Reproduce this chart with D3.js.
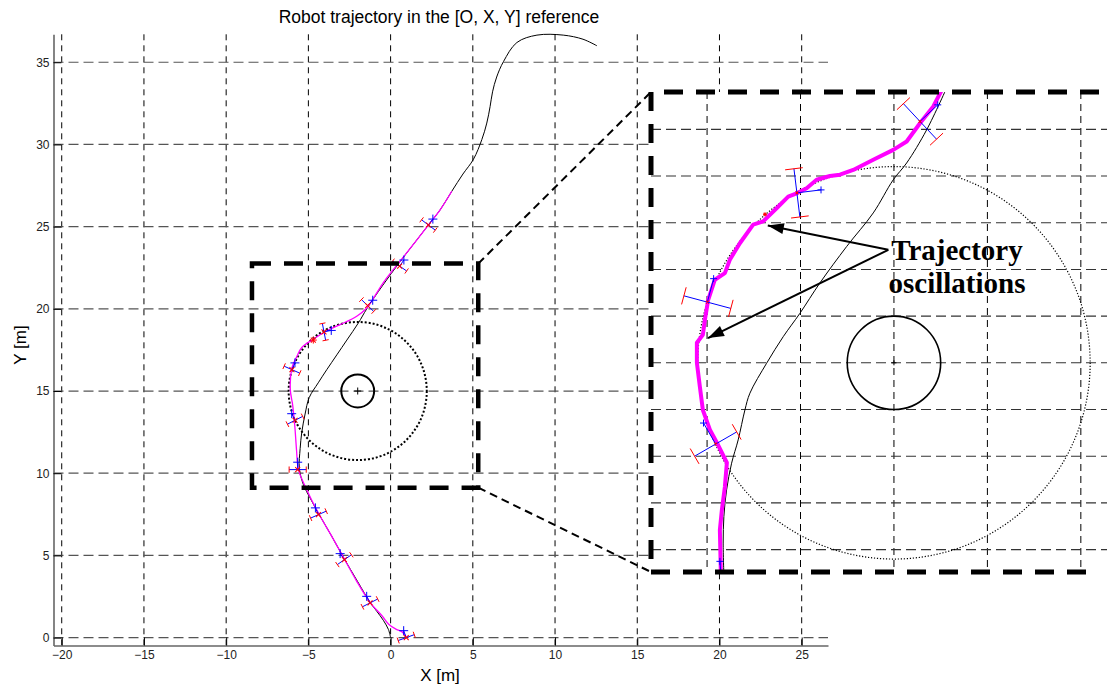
<!DOCTYPE html>
<html>
<head>
<meta charset="utf-8">
<script src="https://cdn.jsdelivr.net/npm/d3@7"></script>
<style>
	body { margin: 0; background: #fff; }
	text { font-family: "Liberation Sans", Arial, sans-serif; }
</style>
</head>
<body>
<div id="chart"></div>
<script>

// tick values of the main axes
let xTicks = [-20, -15, -10, -5, 0, 5, 10, 15, 20, 25];
let yTicks = [0, 5, 10, 15, 20, 25, 30, 35];

// obstacle (center, radius) and its safety circle radius
let obstacle = [-2, 15];
let obstacleRadius = 1;
let safetyRadius = 4.2;

// reference path (black) in the main plot
let refPath = [[0, 0], [-0.13, 0.49], [-0.44, 1.05], [-0.84, 1.6], [-1.25, 2.15], [-2.0, 3.4], [-2.85, 4.85],
	[-3.6, 6.2], [-4.35, 7.5], [-4.9, 8.5], [-5.3, 9.3], [-5.55, 10.3], [-5.5, 11.5], [-5.4, 12.5], [-5.2, 13.6],
	[-4.95, 14.6], [-4.4, 15.5], [-3.88, 16.3], [-3.27, 17.2], [-2.66, 18.1], [-1.96, 19.14], [-1.45, 20.0],
	[-0.5, 21.4], [0.6, 22.9], [1.6, 24.2], [2.3, 25.1], [3.0, 26.0], [3.72, 27.15], [4.4, 28.2], [5.04, 29.1],
	[5.55, 30.3], [5.85, 31.3], [6.05, 32.3], [6.2, 33.2], [6.45, 34.1], [6.87, 35.05], [7.68, 36.2],
	[8.9, 36.65], [10.5, 36.65], [11.7, 36.4], [12.55, 36.0]];

// robot trajectory (magenta) in the main plot
let robotPath = [[0.95, 0.05], [0.7, 0.35], [0.35, 0.5], [-0.1, 0.8], [-0.5, 1.3], [-1.25, 2.15], [-2.1, 3.5],
	[-2.85, 4.85], [-3.6, 6.2], [-4.35, 7.5], [-5.1, 9.0], [-5.6, 10.2], [-5.72, 11.4], [-5.82, 12.8],
	[-5.95, 14.1], [-6.1, 15.1], [-6.0, 16.4], [-5.7, 17.1], [-5.4, 17.65], [-4.7, 18.15], [-3.9, 18.65],
	[-3.07, 19.04], [-2.06, 19.55], [-1.45, 20.05], [-0.44, 21.6], [0.58, 22.9], [1.6, 24.2], [2.3, 25.1],
	[3.0, 26.0], [3.72, 27.15]];

// estimated poses on the main plot: x, y, heading (deg)
let mainSites = [[0.95, 0.0, 110], [-1.25, 2.11, 117], [-2.81, 4.74, 125], [-4.39, 7.48, 114],
	[-5.65, 10.22, 90], [-5.81, 13.22, 117], [-6.0, 16.3, 66], [-4.05, 18.6, 11], [-1.4, 20.2, 46],
	[0.55, 22.6, 55], [2.3, 25.1, 53]];
let mainStars = [[-4.7, 18.1]];

// zoomed region marked on the main plot
let zoomBox = [[-8.43, 9.12], [5.33, 22.75]];

// inset (zoom) data
let insetX = [-7.2, 2.56];
let insetY = [10.52, 20.8];
let insetGridX = [-6, -4, -2, 0, 2];
let insetGridY = [11, 12, 13, 14, 15, 16, 17, 18, 19, 20];

let insetRefPath = [[-0.844, 20.95], [-1.3, 19.99], [-1.728, 19.28], [-2.015, 18.92], [-2.443, 18.21],
	[-3.013, 17.49], [-3.585, 16.71], [-4.013, 16.06], [-4.37, 15.56], [-4.726, 14.99], [-5.083, 14.35],
	[-5.19, 13.99], [-5.334, 13.35], [-5.475, 12.85], [-5.582, 12.28], [-5.64, 11.71], [-5.655, 11.14],
	[-5.64, 10.46]];

let insetRobotPath = [[-0.951, 20.89], [-1.158, 20.49], [-1.443, 20.13], [-1.728, 19.74], [-2.015, 19.56],
	[-2.443, 19.35], [-2.872, 19.13], [-3.156, 19.03], [-3.37, 19.0], [-3.655, 18.92], [-3.869, 18.74],
	[-4.083, 18.63], [-4.263, 18.56], [-4.512, 18.31], [-4.799, 18.03], [-5.013, 17.96], [-5.298, 17.56],
	[-5.512, 17.21], [-5.619, 16.92], [-5.833, 16.78], [-5.976, 16.35], [-6.047, 15.92], [-6.09, 15.6],
	[-6.218, 15.43], [-6.218, 15.0], [-6.154, 14.49], [-6.09, 13.99], [-5.94, 13.57], [-5.79, 13.29],
	[-5.576, 12.86], [-5.619, 12.34], [-5.683, 11.85], [-5.726, 11.42], [-5.704, 10.46]];

let insetSites = [[-1.443, 20.17, 43], [-4.077, 18.64, 7], [-5.994, 16.3, 75], [-5.816, 13.26, 120],
	[-5.68, 10.23, 95]];
let insetStars = [[-4.76, 18.18]];

// annotation arrows (inset coordinates)
let noteTail = [-2.12, 17.42];
let noteTips = [[-4.70, 17.94], [-5.98, 15.53]];
let noteLines = ["Trajectory", "oscillations"];


let width = 1107, height = 687;

let svg = d3.select("#chart")
	.append("svg")
	.attr("width", width)
	.attr("height", height);

svg.append("rect").attr("width", width).attr("height", height).attr("fill", "#fff");

// main scales (equal aspect)
let x = d3.scaleLinear().domain([-20.5, 26.6]).range([53.5, 828]);
let y = d3.scaleLinear().domain([-0.48, 36.7]).range([645.5, 34.3]);

// grid
svg.append("g")
	.selectAll("line")
	.data(xTicks)
	.enter().append("line")
	.attr("x1", d => x(d)).attr("x2", d => x(d))
	.attr("y1", y.range()[1]).attr("y2", y.range()[0])
	.attr("stroke", "#000")
	.attr("stroke-dasharray", "6,5");

svg.append("g")
	.selectAll("line")
	.data(yTicks)
	.enter().append("line")
	.attr("x1", x.range()[0]).attr("x2", x.range()[1])
	.attr("y1", d => y(d)).attr("y2", d => y(d))
	.attr("stroke", "#555")
	.attr("stroke-width", 1.2)
	.attr("stroke-dasharray", "10,5");

// axes with inward ticks
let xAxis = svg.append("g")
	.attr("transform", "translate(0," + y.range()[0] + ")")
	.call(d3.axisBottom(x).tickValues(xTicks).tickSize(-8).tickSizeOuter(0).tickPadding(5));

let yAxis = svg.append("g")
	.attr("transform", "translate(" + x.range()[0] + ",0)")
	.call(d3.axisLeft(y).tickValues(yTicks).tickSize(-8).tickSizeOuter(0).tickPadding(4));

[xAxis, yAxis].forEach(function (a) {
	a.select(".domain").attr("stroke", "#666").attr("stroke-width", 1.6);
	a.selectAll(".tick line").attr("stroke", "#000");
	a.selectAll(".tick text")
		.attr("fill", "#222")
		.style("font-size", "12px")
		.style("font-family", "Liberation Sans, Arial, sans-serif");
});

// labels
svg.append("text")
	.attr("x", 439)
	.attr("y", 23)
	.attr("text-anchor", "middle")
	.style("font-size", "17.5px")
	.text("Robot trajectory in the [O, X, Y] reference");

svg.append("text")
	.attr("x", 440)
	.attr("y", 681)
	.attr("text-anchor", "middle")
	.style("font-size", "17px")
	.text("X [m]");

svg.append("text")
	.attr("transform", "rotate(-90)")
	.attr("x", -345)
	.attr("y", 26)
	.attr("text-anchor", "middle")
	.style("font-size", "17px")
	.text("Y [m]");


// draws obstacle, paths and pose markers for one panel
function panel(g, sx, sy, opt) {
	let k = sx(1) - sx(0);

	g.append("circle")
		.attr("cx", sx(obstacle[0])).attr("cy", sy(obstacle[1]))
		.attr("r", safetyRadius * k)
		.attr("fill", "none").attr("stroke", "#000")
		.attr("stroke-width", opt.dotWidth)
		.attr("stroke-dasharray", opt.dotDash);

	g.append("circle")
		.attr("cx", sx(obstacle[0])).attr("cy", sy(obstacle[1]))
		.attr("r", obstacleRadius * k)
		.attr("fill", "none").attr("stroke", "#000")
		.attr("stroke-width", opt.obstWidth);

	cross(g, sx(obstacle[0]), sy(obstacle[1]), opt.plus - 1, "#000", 0);

	let line = d3.line().x(d => sx(d[0])).y(d => sy(d[1]));

	g.append("path")
		.attr("d", line.curve(d3.curveCatmullRom)(opt.ref))
		.attr("fill", "none").attr("stroke", "#000").attr("stroke-width", 1);

	g.append("path")
		.attr("d", line.curve(opt.smooth ? d3.curveCatmullRom : d3.curveLinear)(opt.robot))
		.attr("fill", "none").attr("stroke", "#ff00ff")
		.attr("stroke-width", opt.robotWidth)
		.attr("stroke-linejoin", "round");

	// pose markers: blue bar across the path with red caps, heading line to a blue +
	opt.sites.forEach(function (s) {
		let a = s[2] * Math.PI / 180;
		let h = [Math.cos(a), Math.sin(a)];
		let p = [Math.sin(a), -Math.cos(a)];
		let e1 = [s[0] + 0.52 * p[0], s[1] + 0.52 * p[1]];
		let e2 = [s[0] - 0.52 * p[0], s[1] - 0.52 * p[1]];
		let tip = [s[0] + opt.reach * h[0], s[1] + opt.reach * h[1]];

		seg(g, e1, e2, "#0000ff", 1);
		[e1, e2].forEach(function (e) {
			seg(g, [e[0] - 0.19 * h[0], e[1] - 0.19 * h[1]], [e[0] + 0.19 * h[0], e[1] + 0.19 * h[1]], "#ff0000", 1);
		});
		seg(g, [s[0], s[1]], tip, "#0000ff", 1);
		cross(g, sx(tip[0]), sy(tip[1]), opt.plus, "#0000ff", 0);
		cross(g, sx(s[0]), sy(s[1]), opt.xmark, "#ff0000", 45);
	});

	opt.stars.forEach(function (s) {
		cross(g, sx(s[0]), sy(s[1]), opt.xmark, "#ff0000", 0);
		cross(g, sx(s[0]), sy(s[1]), opt.xmark, "#ff0000", 45);
	});

	function seg(g, p1, p2, color, w) {
		g.append("line")
			.attr("x1", sx(p1[0])).attr("y1", sy(p1[1]))
			.attr("x2", sx(p2[0])).attr("y2", sy(p2[1]))
			.attr("stroke", color).attr("stroke-width", w);
	}
}

// plus / x shaped marker
function cross(g, cx, cy, r, color, rot) {
	if (r <= 0) return;
	g.append("path")
		.attr("d", "M" + (-r) + ",0H" + r + "M0," + (-r) + "V" + r)
		.attr("transform", "translate(" + cx + "," + cy + ") rotate(" + rot + ")")
		.attr("stroke", color).attr("stroke-width", 1).attr("fill", "none");
}

panel(svg.append("g"), x, y, {
	ref: refPath, robot: robotPath, sites: mainSites, stars: mainStars,
	smooth: true, robotWidth: 1.3, dotWidth: 2, dotDash: "2,2", obstWidth: 2,
	plus: 4.5, xmark: 3.5, reach: 0.45
});

// zoomed region box and connector lines
let bx1 = x(zoomBox[0][0]), bx2 = x(zoomBox[1][0]);
let by1 = y(zoomBox[1][1]), by2 = y(zoomBox[0][1]);

// inset placement
let ix = d3.scaleLinear().domain(insetX).range([651, 1107]);
let iy = d3.scaleLinear().domain(insetY).range([572, 92]);

svg.append("rect")
	.attr("x", bx1).attr("y", by1)
	.attr("width", bx2 - bx1).attr("height", by2 - by1)
	.attr("fill", "none").attr("stroke", "#000")
	.attr("stroke-width", 4.5)
	.attr("stroke-dasharray", "19,13");

svg.append("g")
	.selectAll("line")
	.data([[by1, 92], [by2, 572]])
	.enter().append("line")
	.attr("x1", bx2).attr("y1", d => d[0])
	.attr("x2", 651).attr("y2", d => d[1])
	.attr("stroke", "#000").attr("stroke-width", 2)
	.attr("stroke-dasharray", "8,5");

// inset panel
svg.append("clipPath").attr("id", "insetClip")
	.append("rect")
	.attr("x", 651).attr("y", 92).attr("width", 456).attr("height", 480);

let inset = svg.append("g").attr("clip-path", "url(#insetClip)");

inset.append("rect")
	.attr("x", 651).attr("y", 92).attr("width", 456).attr("height", 480)
	.attr("fill", "#fff");

inset.append("g")
	.selectAll("line")
	.data(insetGridX)
	.enter().append("line")
	.attr("x1", d => ix(d)).attr("x2", d => ix(d))
	.attr("y1", 92).attr("y2", 572)
	.attr("stroke", "#000")
	.attr("stroke-dasharray", "7,5");

inset.append("g")
	.selectAll("line")
	.data(insetGridY)
	.enter().append("line")
	.attr("x1", 651).attr("x2", 1107)
	.attr("y1", d => iy(d)).attr("y2", d => iy(d))
	.attr("stroke", "#333")
	.attr("stroke-width", 1.1)
	.attr("stroke-dasharray", "10,5");

panel(inset, ix, iy, {
	ref: insetRefPath, robot: insetRobotPath, sites: insetSites, stars: insetStars,
	smooth: false, robotWidth: 4, dotWidth: 1.2, dotDash: "1.2,1.8", obstWidth: 1.6,
	plus: 3.5, xmark: 2, reach: 0.52
});

// annotation
let tail = [ix(noteTail[0]), iy(noteTail[1])];
noteTips.forEach(function (t) {
	let tx = ix(t[0]), ty = iy(t[1]);
	let ang = Math.atan2(ty - tail[1], tx - tail[0]) * 180 / Math.PI;
	svg.append("line")
		.attr("x1", tail[0]).attr("y1", tail[1])
		.attr("x2", tx).attr("y2", ty)
		.attr("stroke", "#000").attr("stroke-width", 2);
	svg.append("path")
		.attr("d", "M0,0L-16,-5.5L-16,5.5Z")
		.attr("transform", "translate(" + tx + "," + ty + ") rotate(" + ang + ")")
		.attr("fill", "#000");
});

svg.append("g")
	.selectAll("text")
	.data(noteLines)
	.enter().append("text")
	.attr("x", 957)
	.attr("y", (d, i) => 260 + i * 33)
	.attr("text-anchor", "middle")
	.style("font-family", "Liberation Serif, Times New Roman, serif")
	.style("font-weight", "bold")
	.style("font-size", "29px")
	.text(d => d);

// inset border (top, left, bottom)
svg.append("path")
	.attr("d", "M1099,92H651V572H1096")
	.attr("fill", "none").attr("stroke", "#000")
	.attr("stroke-width", 5)
	.attr("stroke-dasharray", "19,13");

</script>
</body>
</html>
